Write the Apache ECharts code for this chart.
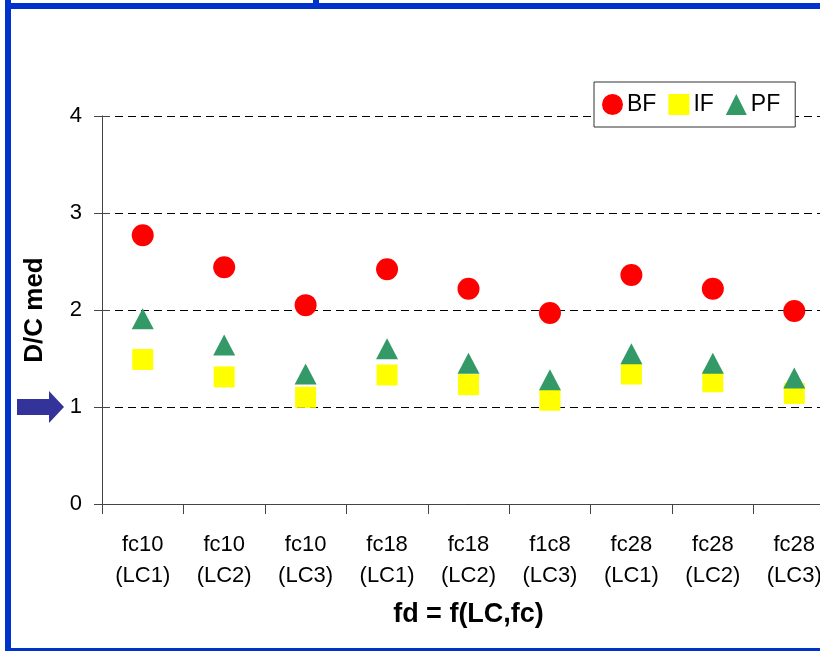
<!DOCTYPE html>
<html><head><meta charset="utf-8">
<script src="https://cdn.jsdelivr.net/npm/echarts@6/dist/echarts.min.js"></script>
<style>html,body{margin:0;padding:0;background:#fff;overflow:hidden}#c{width:845px;height:651px}</style>
</head><body><div id="c"></div>
<script>
const categories = ["fc10\n(LC1)","fc10\n(LC2)","fc10\n(LC3)","fc18\n(LC1)","fc18\n(LC2)","f1c8\n(LC3)","fc28\n(LC1)","fc28\n(LC2)","fc28\n(LC3)"];
const BF = [2.77, 2.44, 2.05, 2.42, 2.22, 1.97, 2.36, 2.22, 1.99];
const IF = [1.49, 1.31, 1.10, 1.33, 1.23, 1.07, 1.34, 1.26, 1.14];
const PF = [1.91, 1.64, 1.34, 1.60, 1.45, 1.28, 1.55, 1.45, 1.30];
const yTicks = {min: 0, max: 4, interval: 1};

const FONT = "'Liberation Sans', Arial, sans-serif";
const chart = echarts.init(document.getElementById('c'), null, {renderer: 'canvas'});
chart.setOption({
  animation: false,
  textStyle: {fontFamily: FONT},
  grid: {left: 102, top: 116, width: 733, height: 388, containLabel: false},
  legend: {
    left: 594, top: 82, orient: 'horizontal',
    padding: [11, 15, 11, 8], itemGap: 12, itemWidth: 21, itemHeight: 21,
    borderColor: '#333', borderWidth: 1, backgroundColor: '#fff',
    textStyle: {fontFamily: FONT, fontSize: 23, color: '#000', padding: [0, 0, 0, -1]},
    data: [{name: 'BF', icon: 'circle'}, {name: 'IF', icon: 'rect'}, {name: 'PF', icon: 'triangle'}]
  },
  xAxis: {
    type: 'category', data: categories, boundaryGap: true,
    name: 'fd = f(LC,fc)', nameLocation: 'middle', nameGap: 97,
    nameTextStyle: {fontFamily: FONT, fontSize: 27, fontWeight: 'bold', color: '#000'},
    axisLine: {lineStyle: {color: '#444', width: 1}},
    axisTick: {show: true, length: 10, lineStyle: {color: '#444'}},
    axisLabel: {interval: 0, fontFamily: FONT, fontSize: 22, color: '#000', lineHeight: 31, margin: 25},
    splitLine: {show: false}
  },
  yAxis: [{
    type: 'value', min: yTicks.min, max: yTicks.max, interval: yTicks.interval,
    name: 'D/C med', nameLocation: 'middle', nameGap: 54, nameRotate: 90,
    nameTextStyle: {fontFamily: FONT, fontSize: 26, fontWeight: 'bold', color: '#000'},
    axisLine: {show: true, lineStyle: {color: '#444', width: 1}},
    axisTick: {show: true, length: 8, lineStyle: {color: '#444'}},
    axisLabel: {fontFamily: FONT, fontSize: 22, color: '#000', margin: 20},
    splitLine: {show: true, lineStyle: {color: '#000', type: [8, 5], width: 1}}
  }, {
    type: 'value', position: 'left', min: yTicks.min, max: yTicks.max, interval: yTicks.interval,
    axisLine: {show: false},
    axisTick: {show: true, inside: true, length: 8, lineStyle: {color: '#444'}},
    axisLabel: {show: false}, splitLine: {show: false}
  }],
  series: [
    {name: 'BF', type: 'scatter', data: BF, symbol: 'circle', symbolSize: 22, itemStyle: {color: '#ff0000', opacity: 1}},
    {name: 'IF', type: 'scatter', data: IF, symbol: 'rect', symbolSize: 21, itemStyle: {color: '#ffff00', opacity: 1}},
    {name: 'PF', type: 'scatter', data: PF, symbol: 'triangle', symbolSize: [22, 21], itemStyle: {color: '#339966', opacity: 1}}
  ],
  graphic: [
    {type: 'rect', shape: {x: 5, y: 3, width: 840, height: 6}, style: {fill: '#0033cc'}, silent: true},
    {type: 'rect', shape: {x: 5, y: 0, width: 6, height: 651}, style: {fill: '#0033cc'}, silent: true},
    {type: 'rect', shape: {x: 313, y: 0, width: 6, height: 4}, style: {fill: '#0033cc'}, silent: true},
    {type: 'rect', shape: {x: 5, y: 648, width: 840, height: 3}, style: {fill: '#0033cc'}, silent: true},
    {type: 'polygon', shape: {points: [[17, 399], [49, 399], [49, 391], [64, 407], [49, 423], [49, 415], [17, 415]]}, style: {fill: '#333399'}, silent: true}
  ]
});
</script></body></html>
